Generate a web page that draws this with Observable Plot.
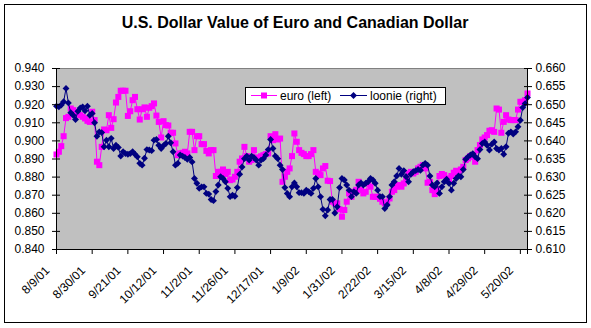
<!DOCTYPE html>
<html><head><meta charset="utf-8">
<script src="https://cdn.jsdelivr.net/npm/d3@7"></script>
<script src="https://cdn.jsdelivr.net/npm/@observablehq/plot@0.6"></script>
<style>
body{margin:0;background:#fff;font-family:"Liberation Sans",Arial,sans-serif;}
#wrap{position:relative;width:591px;height:328px;overflow:hidden;}
#border{position:absolute;left:4px;top:4px;width:581px;height:317px;border:1px solid #000;pointer-events:none;}
#legend{position:absolute;left:245px;top:87px;width:199px;height:16px;border:1px solid #000;background:#fff;}
#legend svg{position:absolute;left:0;top:0;font-family:"Liberation Sans",Arial,sans-serif;font-size:12px;}
</style></head><body>
<div id="wrap"><div id="chart"></div><div id="border"></div>
<div id="legend"><svg width="199" height="16">
<line x1="5" x2="31" y1="7.5" y2="7.5" stroke="#FF00FF"/>
<rect x="15" y="4.5" width="6" height="6" fill="#FF00FF"/>
<text x="34" y="12">euro (left)</text>
<line x1="94" x2="121" y1="7.5" y2="7.5" stroke="#000080"/>
<path d="M107.5,4 L111,7.5 L107.5,11 L104,7.5 Z" fill="#000080"/>
<text x="124" y="12">loonie (right)</text>
</svg></div>
</div>
<script>
const tickLabels = ["8/9/01","8/30/01","9/21/01","10/12/01","11/2/01","11/26/01","12/17/01","1/9/02","1/31/02","2/22/02","3/15/02","4/8/02","4/29/02","5/20/02"];
const tickStep = 15;
const leftTicks = [0.840,0.850,0.860,0.870,0.880,0.890,0.900,0.910,0.920,0.930,0.940];
const rightTicks = [0.610,0.615,0.620,0.625,0.630,0.635,0.640,0.645,0.650,0.655,0.660];

const euro = [
0.8925,0.8940,0.8971,0.9026,0.9126,0.9133,0.9179,0.9170,0.9161,0.9151,
0.9142,0.9133,0.9124,0.9111,0.9105,0.9161,0.9115,0.8885,0.8866,0.8967,
0.9063,0.9059,0.9142,0.9072,0.9120,0.9212,0.9243,0.9277,0.9277,0.9277,
0.9138,0.9164,0.9225,0.9243,0.9175,0.9118,0.9175,0.9185,0.9133,0.9183,
0.9192,0.9207,0.9140,0.9105,0.9019,0.9109,0.9087,0.9085,0.9045,0.9045,
0.8986,0.8921,0.8931,0.8934,0.8940,0.8931,0.9050,0.9050,0.8949,0.9026,
0.9026,0.8982,0.8982,0.8945,0.8931,0.8949,0.8949,0.8806,0.8829,0.8829,
0.8842,0.8817,0.8829,0.8783,0.8787,0.8802,0.8829,0.8885,0.8903,0.8967,
0.8916,0.8885,0.8894,0.8949,0.8903,0.8909,0.8915,0.8921,0.8927,0.8931,
0.9026,0.9004,0.9037,0.9008,0.9013,0.8774,0.8802,0.8829,0.8848,0.8916,
0.9041,0.8995,0.8949,0.8934,0.8927,0.8916,0.8916,0.8927,0.8949,0.8829,
0.8820,0.8811,0.8848,0.8861,0.8780,0.8778,0.8664,0.8655,0.8655,0.8622,
0.8581,0.8618,0.8664,0.8710,0.8691,0.8719,0.8730,0.8774,0.8728,0.8710,
0.8719,0.8765,0.8747,0.8691,0.8691,0.8691,0.8680,0.8664,0.8655,0.8660,
0.8682,0.8719,0.8728,0.8747,0.8756,0.8747,0.8765,0.8793,0.8820,0.8829,
0.8820,0.8829,0.8848,0.8857,0.8866,0.8848,0.8769,0.8774,0.8728,0.8706,
0.8732,0.8806,0.8817,0.8811,0.8793,0.8783,0.8806,0.8824,0.8835,0.8824,
0.8842,0.8857,0.8894,0.8903,0.8916,0.8912,0.8885,0.8949,0.8977,0.9008,
0.9019,0.9032,0.9056,0.9059,0.9050,0.9179,0.9173,0.9045,0.9105,0.9142,
0.9118,0.9115,0.9115,0.9115,0.9173,0.9216,0.9216,0.9225,0.9262];

const loonie = [
0.6496,0.6494,0.6499,0.6508,0.6545,0.6505,0.6478,0.6471,0.6459,0.6482,
0.6491,0.6494,0.6483,0.6496,0.6471,0.6476,0.6450,0.6413,0.6425,0.6423,
0.6384,0.6402,0.6384,0.6407,0.6379,0.6388,0.6382,0.6358,0.6370,0.6365,
0.6363,0.6365,0.6370,0.6363,0.6356,0.6338,0.6333,0.6352,0.6376,0.6375,
0.6373,0.6402,0.6404,0.6388,0.6379,0.6387,0.6393,0.6413,0.6395,0.6370,
0.6333,0.6338,0.6361,0.6358,0.6354,0.6349,0.6354,0.6342,0.6296,0.6283,
0.6269,0.6273,0.6273,0.6255,0.6253,0.6238,0.6235,0.6260,0.6278,0.6301,
0.6296,0.6287,0.6269,0.6246,0.6250,0.6247,0.6271,0.6308,0.6328,0.6351,
0.6358,0.6347,0.6358,0.6354,0.6347,0.6333,0.6347,0.6351,0.6361,0.6376,
0.6404,0.6379,0.6358,0.6351,0.6333,0.6321,0.6271,0.6255,0.6246,0.6273,
0.6284,0.6273,0.6257,0.6257,0.6255,0.6264,0.6260,0.6255,0.6269,0.6296,
0.6273,0.6246,0.6211,0.6193,0.6209,0.6238,0.6238,0.6201,0.6218,0.6271,
0.6296,0.6292,0.6278,0.6264,0.6246,0.6260,0.6255,0.6278,0.6284,0.6278,
0.6283,0.6287,0.6296,0.6292,0.6283,0.6264,0.6246,0.6246,0.6213,0.6223,
0.6246,0.6278,0.6287,0.6303,0.6324,0.6308,0.6318,0.6301,0.6287,0.6308,
0.6315,0.6318,0.6321,0.6319,0.6333,0.6338,0.6333,0.6303,0.6278,0.6273,
0.6284,0.6255,0.6273,0.6287,0.6294,0.6283,0.6264,0.6283,0.6296,0.6303,
0.6301,0.6321,0.6349,0.6356,0.6361,0.6365,0.6356,0.6351,0.6376,0.6393,
0.6397,0.6388,0.6375,0.6391,0.6397,0.6379,0.6375,0.6379,0.6363,0.6384,
0.6421,0.6425,0.6419,0.6425,0.6439,0.6457,0.6492,0.6503,0.6520];

// map right-axis (loonie) values onto the left-axis scale
const toLeft = v => 0.840 + (v - 0.610) * 2;
const fromLeft = v => 0.610 + (v - 0.840) / 2;

const euroData = euro.map((v, i) => ({i, v}));
const loonieData = loonie.map((v, i) => ({i, v: toLeft(v)}));
const xTicks = tickLabels.map((_, k) => k * tickStep);
const last = euro.length - 1;
const f3 = d3.format(".3f");

const chart = Plot.plot({
  width: 591, height: 328,
  marginTop: 68, marginBottom: 79, marginLeft: 56, marginRight: 64,
  style: {fontFamily: '"Liberation Sans", Arial, sans-serif', fontSize: "12px", color: "#000", background: "transparent", overflow: "visible"},
  x: {domain: [0, last]},
  y: {domain: [0.840, 0.940]},
  marks: [
    Plot.frame({fill: "#C0C0C0", stroke: "#808080"}),
    Plot.line(euroData, {x: "i", y: "v", stroke: "#FF00FF", strokeWidth: 1}),
    Plot.dot(euroData, {x: "i", y: "v", symbol: "square", r: 3.4, fill: "#FF00FF"}),
    Plot.line(loonieData, {x: "i", y: "v", stroke: "#000080", strokeWidth: 1}),
    Plot.dot(loonieData, {x: "i", y: "v", symbol: "diamond2", r: 3.1, fill: "#000080"}),
    Plot.ruleX([0], {stroke: "#000"}),
    Plot.ruleX([last], {stroke: "#000"}),
    Plot.ruleY([0.840], {stroke: "#000"}),
    Plot.axisY({anchor: "left", ticks: leftTicks, tickFormat: f3, tickSize: 4, tickPadding: 8, label: null}),
    Plot.axisY({anchor: "left", ticks: leftTicks, tickFormat: () => "", tickSize: 4, dx: 4, label: null}),
    Plot.axisY({anchor: "right", ticks: rightTicks.map(toLeft), tickFormat: d => f3(fromLeft(d)), tickSize: 4, tickPadding: 4, label: null}),
    Plot.axisY({anchor: "right", ticks: rightTicks.map(toLeft), tickFormat: () => "", tickSize: 4, dx: -4, label: null}),
    Plot.axisX({ticks: xTicks.concat([last]), tickFormat: () => "", tickSize: 5, label: null}),
    Plot.axisX({ticks: xTicks, tickFormat: d => tickLabels[Math.round(d / tickStep)], tickRotate: -45, tickSize: 0, tickPadding: 19, dx: -9, label: null}),
    Plot.text(["U.S. Dollar Value of Euro and Canadian Dollar"], {frameAnchor: "top", lineAnchor: "middle", dy: -46, dx: 3, fontSize: 16, fontWeight: "bold"})
  ]
});
document.getElementById("chart").appendChild(chart);
</script>
</body></html>
